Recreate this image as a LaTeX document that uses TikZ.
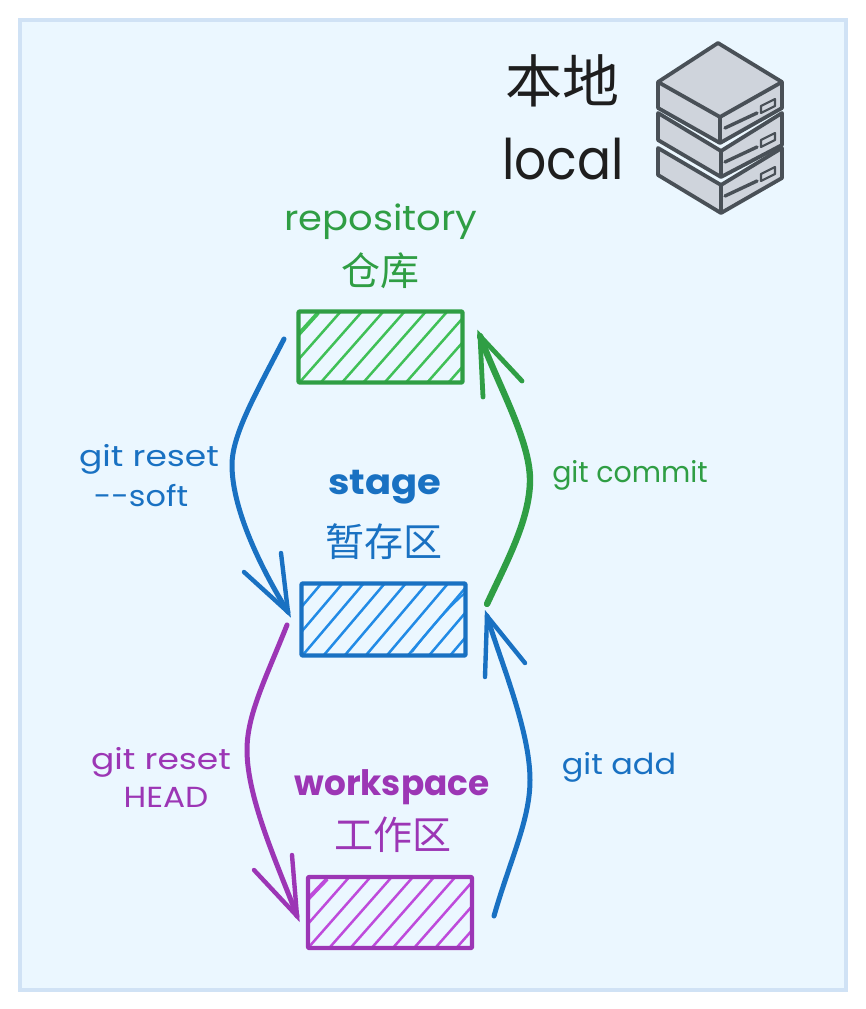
\documentclass[tikz,border=0pt]{standalone}
\usepackage{fontspec}
\usepackage{graphicx}
\setmainfont{Poppins}
\newfontfamily\cjk{Noto Sans CJK SC}
\newcommand{\sx}[2]{\scalebox{#1}[1]{#2}}
\definecolor{bgfill}{HTML}{EBF7FF}
\definecolor{bgline}{HTML}{D0E2F5}
\definecolor{gs}{HTML}{2F9E44}
\definecolor{gh}{HTML}{40C057}
\definecolor{bs}{HTML}{1971C2}
\definecolor{bh}{HTML}{228BE6}
\definecolor{ps}{HTML}{9C36B5}
\definecolor{ph}{HTML}{BE4BDB}
\definecolor{ink}{HTML}{1E1E1E}
\definecolor{srvfill}{HTML}{CFD4DC}
\definecolor{srvline}{HTML}{495057}
\tikzset{
  x=1pt,y=-1pt,
  panel/.style={draw=bgline,fill=bgfill,line width=4pt},
  hbox/.style={draw=#1,line width=4.4pt,minimum width=164pt,minimum height=71pt,inner sep=0pt,rounded corners=1pt,line join=round},
  conn/.style={draw=#1,line width=5pt,line cap=round,line join=round},
  barb/.style={draw=#1,line width=4.4pt,line cap=round},
  hatch/.style={draw=#1,line width=2.5pt},
  srv/.style={draw=srvline,fill=srvfill,line width=3.8pt,line join=round},
  slot/.style={draw=srvline,line width=3.4pt,line cap=round},
  lbl/.style={inner sep=0pt,text=#1,font=\fontsize{29}{29}\selectfont},
  big/.style={inner sep=0pt,text=#1,font=\fontsize{35}{35}\selectfont},
  bigb/.style={inner sep=0pt,text=#1,font=\bfseries\fontsize{35}{35}\selectfont},
  zh/.style={inner sep=0pt,text=#1,font=\cjk\fontsize{39}{39}\selectfont},
}
\begin{document}
\begin{tikzpicture}
\useasboundingbox (0,0) rectangle (866,1009);
\path[panel] (20,20) rectangle (846,990);

% server stack
\path[srv] (658,148) -- (721,185) -- (782,148) -- (782,178) -- (721,213) -- (658,175) -- cycle;
\path[srv] (721,185) -- (721,213);
\path[srv] (658,113) -- (721,151) -- (782,113) -- (782,145) -- (721,177) -- (658,140) -- cycle;
\path[srv] (721,151) -- (721,177);
\path[srv] (658,82) -- (718,43) -- (782,82) -- (782,108) -- (720,143) -- (658,108) -- cycle;
\path[srv] (658,82) -- (720,117) -- (782,82);
\draw[srv,fill=none] (720,117) -- (720,143);
\foreach \o in {0,34,68}{
  \draw[slot] (725,128+\o) -- (757,113+\o);
  \draw[srvline,line width=2.2pt,line join=round] (761,106+\o) -- (775,99+\o) -- (775,106+\o) -- (761,113+\o) -- cycle;
}

\node[inner sep=0pt,text=ink,font=\cjk\fontsize{57}{57}\selectfont] (titlezh) at (562,81) {本地};
\node[inner sep=0pt,text=ink,font=\fontsize{56}{56}\selectfont] (titleen) at (563,159) {\sx{0.9}{local}};

% hatching
\begin{scope}
\clip (298,311) rectangle (463,383);
\foreach \k in {-2,...,7}
  \draw[hatch=gh] (\k*21.3+299,383) -- (\k*21.3+362.5,311);
\draw[hatch=gh,line width=4pt] (298,335) -- (318,313);
\end{scope}
\begin{scope}
\clip (301,583) rectangle (466,656);
\foreach \k in {-2,...,7}
  \draw[hatch=bh] (\k*21.1+302,656) -- (\k*21.1+364,583);
\draw[bh,line width=2pt] (412,652) .. controls (430,628) and (448,608) .. (466,592);
\end{scope}
\begin{scope}
\clip (307,877) rectangle (473,948);
\foreach \k in {-2,...,7}
  \draw[hatch=ph] (\k*21.2+308,948) -- (\k*21.2+370.5,877);
\draw[hatch=ph,line width=4pt] (307,900) -- (327,879);
\end{scope}

\node[hbox=gs] (repo) at (380.5,347) {};
\node[hbox=bs,minimum height=72pt] (stagebox) at (383.5,619.5) {};
\node[hbox=ps] (work) at (390,912.5) {};

% connector ends
\coordinate (a1s) at (284,339);
\coordinate (a1e) at (288,612);
\coordinate (a1l) at (244,572);
\coordinate (a1r) at (281,553);
\coordinate (a2s) at (487,604);
\coordinate (a2e) at (480,336);
\coordinate (a2l) at (522,381);
\coordinate (a2r) at (483,397);
\coordinate (a3s) at (287,625);
\coordinate (a3e) at (297,916);
\coordinate (a3l) at (254,870);
\coordinate (a3r) at (292,855);
\coordinate (a4s) at (494,916);
\coordinate (a4e) at (487,616);
\coordinate (a4l) at (525,663);
\coordinate (a4r) at (485,677);

\draw[conn=bs] (a1s) .. controls (255,395) and (232,435) .. (232,465) .. controls (232,510) and (262,570) .. (a1e);
\draw[barb=bs] (a1l) -- (a1e) -- (a1r);
\draw[conn=gs,line width=6.4pt] (a2s) .. controls (505,565) and (530,520) .. (530,480) .. controls (530,440) and (498,385) .. (a2e);
\draw[barb=gs,line width=4.8pt] (a2l) -- (a2e) -- (a2r);
\draw[conn=ps] (a3s) .. controls (265,680) and (247,715) .. (247,750) .. controls (247,800) and (280,870) .. (a3e);
\draw[barb=ps] (a3l) -- (a3e) -- (a3r);
\draw[conn=bs] (a4s) .. controls (510,860) and (530,820) .. (530,780) .. controls (530,730) and (500,660) .. (a4e);
\draw[barb=bs] (a4l) -- (a4e) -- (a4r);

% labels
\node[big=gs] (l1) at (381,222) {\sx{1.1}{repository}};
\node[zh=gs] (l2) at (380,271) {仓库};
\node[bigb=bs] (l3) at (385,487) {\sx{1.1}{stage}};
\node[zh=bs] (l4) at (384,542) {暂存区};
\node[bigb=ps] (l5) at (392,787) {\sx{0.98}{workspace}};
\node[zh=ps] (l6) at (393,835) {工作区};
\node[lbl=bs] (l7) at (149,459) {\sx{1.19}{git reset}};
\node[lbl=bs] (l8) at (141,496) {\sx{1.1}{{-}{-}soft}};
\node[lbl=gs] (l9) at (630,475) {\sx{0.98}{git commit}};
\node[lbl=ps] (l10) at (161,762) {\sx{1.19}{git reset}};
\node[lbl=ps] (l11) at (166,797) {\sx{1.13}{HEAD}};
\node[lbl=bs] (l12) at (619,767) {\sx{1.1}{git add}};
\end{tikzpicture}
\end{document}
